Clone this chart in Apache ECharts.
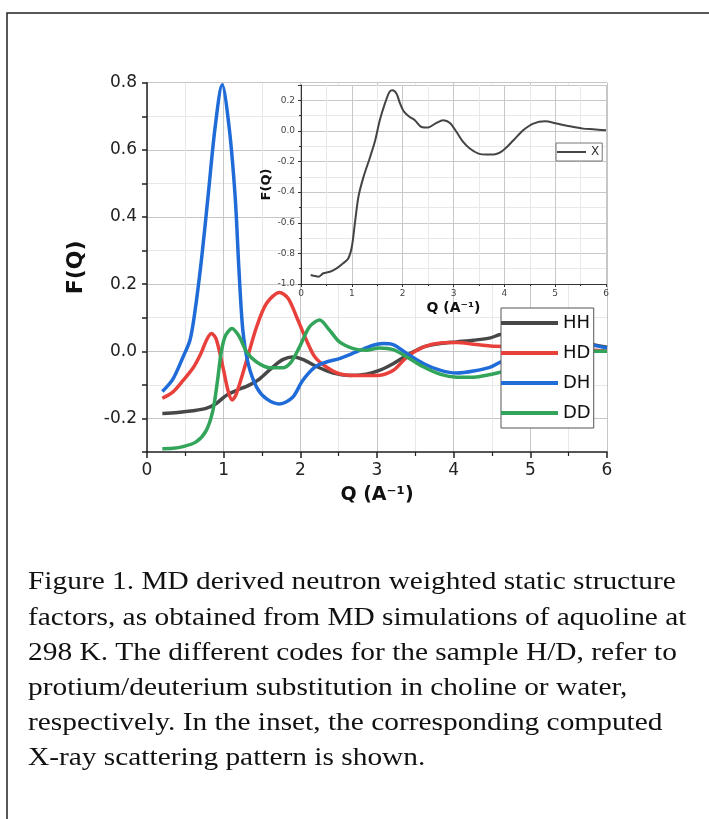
<!DOCTYPE html>
<html lang="en">
<head>
    <meta charset="UTF-8">
    <title>F(Q)</title>
    <script src="https://cdn.jsdelivr.net/npm/echarts@6/dist/echarts.min.js"></script>
    <style>
        html, body { margin: 0; padding: 0; background: #fff; }
    </style>
</head>
<body>
<div id="main" style="width: 709px;height:819px;"></div>
<script>

    // [Q, F(Q)]
    const hh = [[0.2, -0.185], [0.4, -0.182], [0.6, -0.177], [0.77, -0.17], [0.9, -0.156], [1.03, -0.132],
        [1.165, -0.117], [1.34, -0.1], [1.47, -0.082], [1.64, -0.047], [1.77, -0.025], [1.9, -0.017],
        [2.03, -0.024], [2.21, -0.045], [2.43, -0.065], [2.64, -0.072], [2.86, -0.068], [3.03, -0.057],
        [3.21, -0.037], [3.39, -0.012], [3.61, 0.013], [3.83, 0.023], [4.04, 0.028], [4.26, 0.033],
        [4.48, 0.04], [4.61, 0.05], [4.9, 0.055], [5.3, 0.045], [5.7, 0.025], [6.0, 0.012]];
    const hd = [[0.2, -0.14], [0.34, -0.121], [0.47, -0.087], [0.6, -0.05], [0.7, -0.008], [0.78, 0.035],
        [0.84, 0.053], [0.9, 0.038], [0.99, -0.047], [1.06, -0.12], [1.11, -0.145], [1.165, -0.127],
        [1.3, -0.027], [1.43, 0.073], [1.56, 0.143], [1.73, 0.175], [1.84, 0.158], [1.95, 0.103],
        [2.08, 0.033], [2.19, -0.017], [2.34, -0.047], [2.51, -0.067], [2.73, -0.072], [2.99, -0.072],
        [3.21, -0.057], [3.39, -0.017], [3.61, 0.013], [3.83, 0.025], [4.04, 0.026], [4.26, 0.021],
        [4.48, 0.016], [4.8, 0.014], [5.3, 0.01], [5.8, 0.004], [6.0, 0.0]];
    const dh = [[0.2, -0.12], [0.34, -0.082], [0.47, -0.017], [0.56, 0.033], [0.62, 0.11], [0.71, 0.272],
        [0.8, 0.47], [0.89, 0.67], [0.98, 0.794], [1.07, 0.67], [1.15, 0.46], [1.2, 0.24], [1.25, 0.063],
        [1.32, -0.037], [1.43, -0.107], [1.56, -0.142], [1.73, -0.157], [1.9, -0.137], [2.03, -0.087],
        [2.19, -0.047], [2.34, -0.032], [2.51, -0.022], [2.73, -0.002], [2.95, 0.018], [3.08, 0.023],
        [3.21, 0.02], [3.39, -0.007], [3.61, -0.037], [3.83, -0.057], [4.04, -0.065], [4.26, -0.059],
        [4.48, -0.047], [4.61, -0.032], [4.9, -0.01], [5.3, 0.012], [5.7, 0.02], [6.0, 0.01]];
    const dd = [[0.2, -0.29], [0.34, -0.289], [0.47, -0.284], [0.64, -0.27], [0.77, -0.237], [0.86, -0.176],
        [0.92, -0.087], [0.965, -0.007], [1.02, 0.045], [1.11, 0.068], [1.2, 0.045], [1.3, -0.002],
        [1.43, -0.032], [1.6, -0.049], [1.77, -0.049], [1.88, -0.032], [1.99, 0.013], [2.12, 0.073],
        [2.25, 0.093], [2.38, 0.063], [2.51, 0.028], [2.69, 0.008], [2.86, 0.003], [3.03, 0.01],
        [3.21, 0.005], [3.39, -0.017], [3.61, -0.047], [3.83, -0.069], [4.04, -0.077], [4.26, -0.077],
        [4.48, -0.069], [4.61, -0.062], [4.9, -0.045], [5.3, -0.015], [5.7, 0.0], [6.0, 0.0]];

    // inset: X-ray pattern
    const xray = [[0.19, -0.941], [0.28, -0.948], [0.34, -0.952], [0.44, -0.93], [0.57, -0.92], [0.7, -0.898],
        [0.83, -0.865], [0.93, -0.833], [1.0, -0.757], [1.06, -0.604], [1.13, -0.43], [1.23, -0.3],
        [1.36, -0.17], [1.46, -0.061], [1.55, 0.07], [1.65, 0.178], [1.74, 0.254], [1.8, 0.265],
        [1.88, 0.243], [1.95, 0.178], [2.03, 0.124], [2.14, 0.091], [2.24, 0.07], [2.37, 0.026],
        [2.5, 0.022], [2.64, 0.048], [2.8, 0.07], [2.93, 0.052], [3.06, -0.007], [3.19, -0.072],
        [3.32, -0.115], [3.49, -0.148], [3.65, -0.154], [3.82, -0.152], [3.98, -0.126], [4.18, -0.061],
        [4.37, 0.004], [4.57, 0.048], [4.8, 0.063], [5.03, 0.048], [5.29, 0.03], [5.55, 0.015],
        [5.75, 0.011], [6.0, 0.004]];

    const names = ['HH', 'HD', 'DH', 'DD'];
    const colors = ['#474747', '#e8413c', '#1f6cd8', '#33a55a'];
    const caption = [
        'Figure 1. MD derived neutron weighted static structure',
        'factors, as obtained from MD simulations of aquoline at',
        '298 K. The different codes for the sample H/D, refer to',
        'protium/deuterium substitution in choline or water,',
        'respectively. In the inset, the corresponding computed',
        'X-ray scattering pattern is shown.'
    ];

    const font = 'DejaVu Sans';

    function fmtMain(v) {
        const k = Math.round(v * 10);
        if (k % 2 !== 0 || k === -3) return '';
        return Math.abs(v) < 1e-9 ? '0.0' : v.toFixed(1);
    }

    function fmtInset(v) {
        return Math.abs(v) < 1e-9 ? '0.0' : v.toFixed(1);
    }

    let chart = echarts.init(document.getElementById('main'));
    chart.setOption({
        backgroundColor: '#fff',
        animation: false,
        graphic: [{
            type: 'rect',
            z: 0,
            shape: {x: 7, y: 13, width: 760, height: 860},
            style: {fill: 'none', stroke: '#222', lineWidth: 1.5}
        }, {
            type: 'text',
            x: 28,
            y: 565,
            scaleX: 1.13,
            style: {
                text: caption.join('\n'),
                font: '26px "Liberation Serif"',
                lineHeight: 35.2,
                fill: '#111',
                verticalAlign: 'top'
            }
        }],
        legend: [{
            data: names,
            left: 501,
            top: 308,
            orient: 'vertical',
            icon: 'rect',
            itemWidth: 57,
            itemHeight: 4,
            itemGap: 8,
            padding: [4, 3, 4, 0],
            backgroundColor: '#fff',
            borderColor: '#555',
            borderWidth: 1,
            z: 10,
            textStyle: {fontFamily: font, fontSize: 18, lineHeight: 22, color: '#111'}
        }, {
            data: ['X'],
            left: 556,
            top: 143,
            icon: 'rect',
            itemWidth: 29,
            itemHeight: 2,
            padding: [1, 3, 1, 1],
            backgroundColor: '#fff',
            borderColor: '#777',
            borderWidth: 1,
            z: 10,
            textStyle: {fontFamily: font, fontSize: 12, lineHeight: 16, color: '#333'}
        }],
        grid: [{
            left: 147, top: 82.7, right: 102, bottom: 367
        }, {
            left: 301, top: 85, right: 103, bottom: 535,
            show: true, backgroundColor: '#fff', borderWidth: 0, z: 1
        }],
        xAxis: [{
            type: 'value', gridIndex: 0, min: 0, max: 6, interval: 1,
            name: 'Q (A⁻¹)', nameLocation: 'middle', nameGap: 34,
            nameTextStyle: {fontFamily: font, fontSize: 19, fontWeight: 'bold', color: '#111'},
            axisLine: {show: true, onZero: false, lineStyle: {color: '#222', width: 1.5}},
            axisTick: {show: true, length: 6, lineStyle: {color: '#222', width: 1.5}},
            minorTick: {show: true, splitNumber: 2, length: 4, lineStyle: {color: '#222', width: 1.2}},
            axisLabel: {fontFamily: font, fontSize: 17, color: '#222', margin: 10},
            splitLine: {show: true, lineStyle: {color: '#c6c6c6', width: 1}},
            minorSplitLine: {show: true, lineStyle: {color: '#e8e8e8', width: 1}}
        }, {
            type: 'value', gridIndex: 1, min: 0, max: 6, interval: 1, z: 2,
            name: 'Q (A⁻¹)', nameLocation: 'middle', nameGap: 17,
            nameTextStyle: {fontFamily: font, fontSize: 14, fontWeight: 'bold', color: '#111'},
            axisLine: {show: true, onZero: false, lineStyle: {color: '#333', width: 1}},
            axisTick: {show: true, length: 3, lineStyle: {color: '#333'}},
            minorTick: {show: true, splitNumber: 2, length: 2, lineStyle: {color: '#333'}},
            axisLabel: {fontFamily: font, fontSize: 9, color: '#444', margin: 5},
            splitLine: {show: true, lineStyle: {color: '#c8c8c8', width: 1}},
            minorSplitLine: {show: true, lineStyle: {color: '#e8e8e8', width: 1}}
        }],
        yAxis: [{
            type: 'value', gridIndex: 0, min: -0.3, max: 0.8, interval: 0.1,
            name: 'F(Q)', nameLocation: 'middle', nameGap: 60, nameRotate: 90,
            nameTextStyle: {fontFamily: font, fontSize: 22, fontWeight: 'bold', color: '#111'},
            axisLine: {show: true, onZero: false, lineStyle: {color: '#222', width: 1.5}},
            axisTick: {show: true, length: 5, lineStyle: {color: '#222', width: 1.5}},
            axisLabel: {fontFamily: font, fontSize: 17, color: '#222', margin: 10, formatter: fmtMain},
            splitLine: {show: true, lineStyle: {color: ['#e8e8e8', '#c6c6c6'], width: 1}}
        }, {
            type: 'value', gridIndex: 1, min: -1.0, max: 0.3, interval: 0.2, z: 2,
            name: 'F(Q)', nameLocation: 'middle', nameGap: 25, nameRotate: 90,
            nameTextStyle: {fontFamily: font, fontSize: 13, fontWeight: 'bold', color: '#111'},
            axisLine: {show: true, onZero: false, lineStyle: {color: '#333', width: 1}},
            axisTick: {show: true, length: 3, lineStyle: {color: '#333'}},
            minorTick: {show: true, splitNumber: 2, length: 2, lineStyle: {color: '#333'}},
            axisLabel: {fontFamily: font, fontSize: 9, color: '#444', margin: 6, formatter: fmtInset, showMaxLabel: false},
            splitLine: {show: true, lineStyle: {color: '#c8c8c8', width: 1}},
            minorSplitLine: {show: true, lineStyle: {color: '#e8e8e8', width: 1}}
        }],
        series: [hh, hd, dh, dd].map((d, i) => ({
            name: names[i],
            type: 'line',
            xAxisIndex: 0,
            yAxisIndex: 0,
            data: d,
            smooth: 0.3,
            showSymbol: false,
            symbol: 'none',
            color: colors[i],
            lineStyle: {color: colors[i], width: 3.5},
            z: 3
        })).concat([{
            name: 'X',
            type: 'line',
            xAxisIndex: 1,
            yAxisIndex: 1,
            data: xray,
            smooth: 0.3,
            symbol: 'none',
            color: '#444',
            lineStyle: {color: '#444', width: 2},
            z: 5
        }])
    });
</script>
</body>
</html>
